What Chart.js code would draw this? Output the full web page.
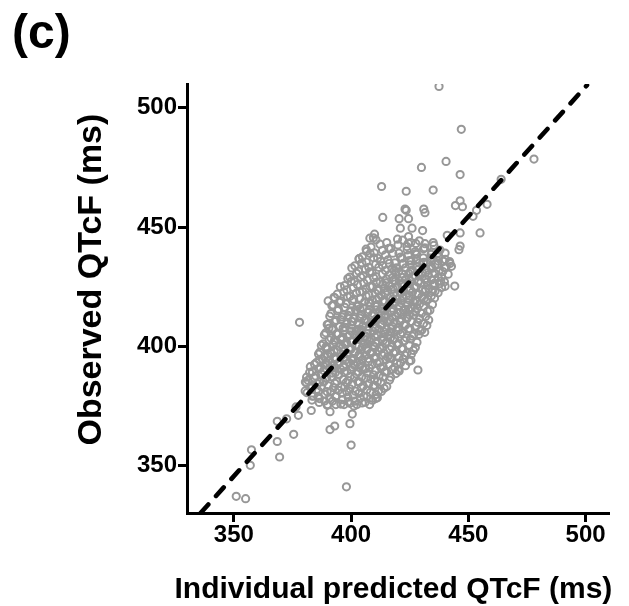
<!DOCTYPE html>
<html>
<head>
<meta charset="utf-8">
<script src="https://cdn.jsdelivr.net/npm/chart.js@4/dist/chart.umd.min.js"></script>
<style>
html,body{margin:0;padding:0;background:#ffffff;}
#wrap{width:629px;height:606px;}
</style>
</head>
<body>
<div id="wrap"><canvas id="c" width="629" height="606"></canvas></div>
<script>
// ---- chart values ----
const panelLabel = '(c)';
const xAxisTitle = 'Individual predicted QTcF (ms)';
const yAxisTitle = '    Observed QTcF (ms)';
const axisMin = 330;
const axisMax = 510;
const xTickValues = [350, 400, 450, 500];
const yTickValues = [350, 400, 450, 500];

// dashed reference line (end points)
const referenceLine = [[335.8, 330], [500.6, 509.5]];

// [individual predicted, observed] — sparse low end
const lowerTail = [
  [351,337],[355,336],[398,341],[357,350],[357.5,356.5],[369.5,353.5],[368.5,360],[375.5,363],
  [400,358.5],[391,365],[393,366.5],[399.5,367.5],[368.5,368.5],[372.5,369.5],[377.5,371],
  [400.5,371.5],[391,372.5],[383,373],[376.5,374.5],[378,410],[380.5,385],[381,387],[383.5,379],
  [386.5,378],[390,375.5],[393.5,375.5],[397,375.5],[399.5,376],[402.5,375.5],[406,376.5],
  [410.5,378],[410,386],[420,390],[428.5,390],[425.5,394],[416.5,395],[390.5,407.5],[390.2,419],[393,420.3]
];

// dense central cloud
const coreBand = [
  [386.4,376.4],[389.8,375.2],[392.1,377],[395.6,375.7],[398.9,376.7],[401.2,374.9],[404.7,376.2],[407.9,375.5],
  [383.3,377.4],[385.9,378.9],[388.7,377],[390.8,378.3],[393.6,379.2],[396.4,377.6],[398.7,378.6],[401.6,376.9],[403.9,378.1],[406.8,378.8],[409.1,377.3],[411.2,378.4],
  [381.2,380.5],[383.8,379.1],[386.1,381.1],[388.9,379.8],[391.3,380.7],[393.4,378.8],[396.2,380.3],[398.1,380.9],[400.9,379.4],[403.3,380.2],[405.4,379],[408.2,380.6],[410.6,379.7],[412.9,381],
  [380.4,381.2],[382.9,382.4],[385.3,381.8],[387.2,383.1],[389.8,380.9],[392.5,382.6],[394.6,381.5],[397.3,382.9],[399.5,382.1],[401.8,381.1],[404.4,382.7],[406.7,381.7],[409.5,383.2],[411.8,381.3],[414.1,382.3],
  [380.9,384.7],[383.4,383],[385.7,384.2],[388.3,385],[390.4,383.4],[393.1,384.4],[395.8,382.8],[397.9,384.8],[400.3,383.9],[402.9,385.1],[405.2,383.2],[407.6,384.3],[410.1,383.6],[412.7,384.9],[415.2,383.1],
  [381.6,385.7],[384.2,386.8],[386.5,384.9],[389.1,386.5],[391.7,387.2],[393.9,385.3],[396.6,386.1],[398.8,385.6],[401.4,386.9],[403.6,385],[406.3,386.6],[408.4,386.2],[411.2,385.2],[413.6,387.1],[416.4,385.8],
  [382.3,389],[384.9,387.5],[387.4,388.3],[389.6,386.8],[392.2,388.7],[394.8,387.9],[397.1,389.1],[399.6,387.3],[402.2,388.4],[404.5,387.1],[406.9,388.8],[409.6,388],[411.9,387.6],[414.3,389.2],[416.9,387],[419.1,388.5],
  [383.5,389.3],[386.2,390.6],[388.3,389.8],[390.9,391],[393.3,388.9],[395.5,390.4],[398.2,389.5],[400.4,391.2],[403.1,389.1],[405.3,390.2],[407.8,390.8],[410.4,389.7],[412.6,391],[415.2,389.2],[417.7,390.3],[420.5,389.6],
  [384.4,392.4],[386.9,391],[389.5,392.9],[391.8,391.7],[394.4,392.6],[396.7,391.2],[399.2,393.1],[401.5,391.9],[404.1,392.5],[406.2,390.8],[408.9,392.2],[411.1,392.9],[413.7,391.4],[416.1,392.3],[418.6,391.1],[421.1,393],[423.2,391.8],
  [385.2,393.1],[387.8,394.5],[390.3,393.8],[392.7,395.2],[395.2,393.4],[397.6,394.1],[400.1,394.8],[402.5,393],[404.9,394.4],[407.4,393.6],[409.8,395],[412.3,393.3],[414.8,394.3],[417.2,394.9],[419.6,392.9],[422.2,394.6],[424.8,393.7],
  [386.1,396.7],[388.5,395.6],[391.2,397.1],[393.6,395.1],[396.1,396.2],[398.4,396.9],[401.1,394.8],[403.4,396.5],[405.9,395.9],[408.2,397],[410.7,395.3],[413.2,396.3],[415.6,395.5],[418.1,397.2],[420.4,395.2],[423.1,396.1],[425.7,396.6],
  [386.7,397.5],[389.3,399],[391.6,396.9],[394.2,398.3],[396.8,397.8],[399.1,398.8],[401.7,397.2],[404.2,398.4],[406.5,399.2],[409.1,397.4],[411.4,398.1],[414.1,397],[416.5,398.7],[418.9,397.7],[421.5,398.9],[423.8,397.1],[426.6,398.2],
  [387.3,400.3],[389.9,399.1],[392.4,400.7],[394.9,399.8],[397.3,401.1],[399.8,398.9],[402.3,400.5],[404.8,399.6],[407.2,400.9],[409.7,400],[412.2,399.3],[414.6,401.2],[417.3,399.7],[419.6,400.6],[422.1,399],[424.7,400.4],[427.4,399.4],
  [388.1,401],[390.6,402.6],[393.1,401.7],[395.5,403],[398.1,401.3],[400.5,402.2],[402.9,402.9],[405.5,400.8],[407.9,402.4],[410.4,401.5],[412.9,403.1],[415.3,401.9],[417.8,402.7],[420.3,401.1],[422.8,402.3],[425.3,403],[428.1,401.6],
  [388.6,404.8],[391.4,403.4],[393.8,405.2],[396.3,403],[398.7,404.1],[401.3,404.7],[403.7,403.6],[406.2,404.3],[408.6,402.9],[411.1,404.9],[413.6,403.8],[416.1,404.5],[418.5,403.2],[421.1,405.1],[423.5,403.5],[426.1,404.2],[428.9,404.9],
  [389.2,405.6],[391.9,407],[394.5,405.2],[396.9,406.5],[399.4,404.8],[402.1,406.2],[404.4,406.9],[406.9,405.4],[409.4,406.3],[411.8,407.1],[414.4,405.1],[416.9,406],[419.3,406.7],[421.8,405.7],[424.4,407.2],[426.8,405],[429.5,406.4],[431.4,405.8],
  [389.8,409.1],[392.3,407.3],[395.1,408.4],[397.4,407.9],[400.1,408.8],[402.6,406.9],[405.1,408.6],[407.6,408.1],[410.2,407.5],[412.5,409],[415.1,407.1],[417.6,408.3],[420.1,407.8],[422.6,408.9],[425.1,407.3],[427.6,408.5],[430.2,406.8],[432.3,408.7],
  [390.3,409.2],[393.1,410.3],[395.6,411.1],[398.2,409.4],[400.6,410.2],[403.3,409],[405.7,410.8],[408.3,409.7],[410.8,411.2],[413.3,409.2],[415.8,410.5],[418.3,409.9],[420.8,410.9],[423.3,408.9],[425.8,410.4],[428.4,410],[430.9,409.5],[433.1,411],
  [390.9,412.6],[393.6,410.9],[396.2,412.2],[398.8,412.9],[401.3,411.6],[403.9,412.6],[406.4,411.1],[408.9,413.1],[411.5,411.8],[414.1,412.4],[416.6,411],[419.1,412.8],[421.6,411.4],[424.1,412.1],[426.7,413],[429.2,411.6],[431.8,412.5],
  [391.4,413.7],[394.2,414.9],[396.7,413],[399.4,414.4],[401.9,415.2],[404.5,413.3],[407.1,414.1],[409.6,413.6],[412.2,414.8],[414.7,412.9],[417.3,414.5],[419.8,414],[422.3,415],[424.9,413.2],[427.4,414.3],[430.1,413.8],[432.6,414.7],
  [391.8,417],[394.6,415.5],[397.3,416.3],[399.9,414.8],[402.6,416.7],[405.1,416.1],[407.7,415.2],[410.3,416.9],[412.8,415.7],[415.4,416.5],[418.1,415],[420.6,417.1],[423.2,415.4],[425.7,416.2],[428.3,415.9],[430.9,416.8],[433.6,415.1],
  [392.3,417.3],[395.1,418.4],[397.9,417.8],[400.5,419.1],[403.2,417.1],[405.8,418.6],[408.3,418],[411,416.9],[413.6,418.9],[416.2,417.6],[418.8,418.2],[421.4,419.2],[424,417.2],[426.6,418.5],[429.2,417.7],[431.9,418.9],[434.7,417.5],
  [392.7,420.5],[395.6,419],[398.4,420.8],[401.1,419.7],[403.8,420.1],[406.4,421],[409.1,419.3],[411.7,420.4],[414.3,418.8],[416.9,420.7],[419.6,419.8],[422.2,420.3],[424.8,421.1],[427.4,419.1],[430.1,420.6],[432.8,419.6],[435.6,420.2],
  [394.1,421.8],[396.9,422.8],[399.6,420.9],[402.3,422.3],[404.9,422.9],[407.6,421.4],[410.3,422.2],[412.9,421.1],[415.6,423.1],[418.2,421.9],[420.9,422.5],[423.5,421.2],[426.2,422.7],[428.8,421.7],[431.5,423],[434.2,421],[437.1,422.4],
  [395.4,424.9],[398.2,423.6],[400.9,424.6],[403.7,422.8],[406.3,424.2],[409.1,425],[411.7,423.3],[414.4,424.4],[417.1,423.7],[419.7,425.1],[422.4,423.1],[425.1,424.1],[427.7,424.8],[430.4,423.5],[433.1,424.3],[435.8,423],[438.6,424.6],
  [397.2,425.4],[400,427.1],[402.7,425.8],[405.4,426.5],[408.1,425],[410.8,426.8],[413.5,426],[416.2,425.2],[418.9,427.2],[421.6,425.6],[424.3,426.3],[427,424.9],[429.7,426.6],[432.4,426.9],[435.1,425.5],[437.7,426.2],[440.1,425.1],
  [398.6,428.4],[401.4,427.1],[404.1,429],[406.9,427.7],[409.6,428.7],[412.4,426.9],[415.1,428.2],[417.8,428.9],[420.6,427.4],[423.3,428.1],[426.1,429.1],[428.8,427.3],[431.6,428.4],[434.3,427.8],[437.1,428.8],[439.8,427],
  [399.4,429],[402.3,430.6],[405.1,429.6],[407.9,431.2],[410.6,429.2],[413.4,430.3],[416.2,429.9],[419,430.9],[421.8,428.9],[424.6,430.5],[427.4,429.5],[430.2,431],[432.9,429.8],[435.7,430.7],[438.6,429.1],[441.4,430.2],
  [400.3,432.8],[403.2,431.5],[406.1,432.2],[408.9,431],[411.8,433.1],[414.6,431.7],[417.5,432.6],[420.3,431.2],[423.2,432.9],[426.1,431.9],[428.9,432.4],[431.8,430.8],[434.6,432.7],[437.5,431.6],[440.4,433],
  [401.6,433.7],[404.6,435],[407.5,433.1],[410.5,434.4],[413.4,433.8],[416.3,434.8],[419.3,432.9],[422.2,434.6],[425.1,434.1],[428.1,433.3],[431,435.2],[433.9,433.5],[436.9,434.3],[439.8,433],[442.2,434.7],
  [403.4,436.6],[406.5,435.3],[409.6,437.1],[412.6,435.6],[415.7,436.2],[418.7,435],[421.8,436.9],[424.8,435.9],[427.9,436.5],[430.9,435.1],[434,437],[437.1,435.7],[440.2,436.4],
  [404.8,437.5],[408.1,438.9],[411.3,436.9],[414.6,438.3],[417.8,439],[421.1,437.4],[424.3,438.1],[427.6,438.8],[430.8,437.1],[434.1,438.5],[437.3,437.8],[440.1,439.1],
  [406.4,440.7],[409.9,439.2],[413.4,440.2],[416.9,441],[420.4,439],[423.9,440.4],[427.4,439.7],[430.9,440.9],[434.4,439.4],[437.9,440.3],
  [408.5,441.6],[412.3,442.8],[416.1,441],[420,442.5],[423.8,441.8],[427.6,443.1],[431.4,441.3],[435.3,442.3],
  [410.6,444.6],[415.2,443.5],[419.8,444.9],[424.4,443.2],[429.1,444.2]
];

// extra points filling the densest part along the line
const innerCore = [
  [382.6,391.4],[386.3,390.4],[389.7,391.9],[393.2,390.8],[396.8,391.7],[400.1,390],[403.5,391.3],[406.2,390.6],
  [386.4,394.3],[389.9,395.8],[393.5,394.6],[396.9,395.4],[400.4,394.1],[403.8,395.9],[407.3,394.8],[410.1,395.3],
  [389.3,399.8],[392.8,398.2],[396.4,399.5],[399.9,398.7],[403.3,400],[406.8,398.4],[410.2,399.6],[413,398.9],
  [392.9,402.5],[396.3,403.7],[399.8,402.1],[403.2,403.4],[406.7,402.8],[410.1,403.9],[413.6,402.3],[416.8,403.5],
  [396.6,407.6],[400.1,406.3],[403.5,407.2],[407,406.6],[410.4,407.9],[413.9,406.1],[417.3,407.4],[420.4,406.8],
  [400.2,410.5],[403.7,411.8],[407.1,410.2],[410.6,411.4],[414,410.7],[417.5,411.9],[420.9,410.3],[423.8,411.5],
  [403.8,415.7],[407.3,414.4],[410.7,415.2],[414.2,414.6],[417.6,415.9],[421.1,414.2],[424.5,415.5],[427.5,414.8],
  [407.5,418.4],[410.9,419.6],[414.4,418.9],[417.8,419.8],[421.3,418.2],[424.7,419.4],[428.2,418.7],[431.1,419.9],
  [411.1,423.6],[414.6,422.3],[418,423.9],[421.5,422.6],[424.9,423.3],[428.4,422.1],[431.8,423.8],[434.7,422.9],
  [414.8,426.6],[418.2,427.7],[421.7,426.2],[425.1,427.4],[428.6,426.8],[432,427.9],[435.5,426.4],[438.2,427.3],
  [418.4,431.7],[421.9,430.3],[425.3,431.2],[428.8,430.6],[432.2,431.9],[435.7,430.4],[439.1,431.3],
  [422.1,434.4],[425.6,435.8],[429,434.9],[432.5,435.3],[435.9,434.2],[439.4,435.6]
];

// sparse high end
const upperTail = [
  [437.5,509],[447,491],[430,475],[440.5,477.5],[446.5,472],[478,478.5],[464,470],[413,467],[423.5,465],[435,465.5],
  [413.5,454],[423,457.5],[431,457.5],[431.5,456],[444.5,459],[446.5,461],[447.5,458.5],[458,459.5],[452,454.5],[453.5,457],
  [455,447.5],[420.5,453.5],[424.5,453.5],[423.5,457],[421,449.5],[426,449.5],[430.5,448.5],[410,447],[409.5,445.5],[441,446.5],
  [446.5,447.5],[446,440.5],[446.5,442],[442,435.5],[422,444.5],[425.5,443.5],[424.5,446],[428,438.5],[431.5,443],[435,443.5],
  [437,439],[444.2,425.2],[442.8,433.5],[403.4,436.7],[408,445.3],[406.6,439.8]
];

// ---- build ----
const FONT = "'Liberation Sans', Arial, Helvetica, sans-serif";
const toXY = arr => arr.map(([x, y]) => ({x, y}));
const observations = toXY([].concat(lowerTail, coreBand, innerCore, upperTail));

// x-axis title drawn below the axis without width compression
const xTitlePlugin = {
  id: 'xTitlePlugin',
  afterDraw(chart) {
    const c = chart.ctx;
    const area = chart.chartArea;
    c.save();
    c.fillStyle = '#000000';
    c.font = "bold 30px " + FONT;
    c.textAlign = 'center';
    c.textBaseline = 'alphabetic';
    c.fillText(xAxisTitle, (area.left + area.right) / 2 - 4.6, area.bottom + 85);
    c.restore();
  }
};

const ctx = document.getElementById('c').getContext('2d');
new Chart(ctx, {
  type: 'scatter',
  data: {
    datasets: [
      {
        type: 'line',
        label: 'Reference line',
        data: toXY(referenceLine),
        borderColor: '#000000',
        borderWidth: 4.6,
        borderDash: [11.5, 11.5],
        borderCapStyle: 'round',
        pointRadius: 0,
        fill: false,
        tension: 0,
        order: 0
      },
      {
        label: 'Observed vs individual predicted QTcF',
        data: observations,
        pointStyle: 'circle',
        pointRadius: 3.6,
        pointBorderWidth: 2,
        pointBorderColor: '#979797',
        pointBackgroundColor: 'rgba(255,255,255,0)',
        order: 1
      }
    ]
  },
  plugins: [xTitlePlugin],
  options: {
    responsive: false,
    animation: false,
    events: [],
    layout: { padding: { left: 12, right: 20, top: 0, bottom: 0 } },
    plugins: {
      legend: { display: false },
      tooltip: { enabled: false },
      title: {
        display: true,
        text: panelLabel,
        align: 'start',
        color: '#000000',
        font: { family: FONT, size: 48, weight: 'bold', lineHeight: 1.2 },
        padding: { top: 5.6, bottom: 20.8 }
      }
    },
    scales: {
      x: {
        type: 'linear',
        position: 'bottom',
        min: axisMin,
        max: axisMax,
        bounds: 'data',
        afterBuildTicks: s => { s.ticks = xTickValues.map(v => ({ value: v })); },
        afterFit: s => { s.height = 93; },
        grid: { display: true, drawOnChartArea: false, drawTicks: true, tickLength: 9, tickWidth: 3, tickColor: '#000000' },
        border: { display: true, color: '#000000', width: 3 },
        ticks: { color: '#000000', padding: 1, maxRotation: 0, font: { family: FONT, size: 24, weight: 'bold', lineHeight: 1 } },
        title: { display: false, text: xAxisTitle }
      },
      y: {
        type: 'linear',
        position: 'left',
        min: axisMin,
        max: axisMax,
        bounds: 'data',
        afterBuildTicks: s => { s.ticks = yTickValues.map(v => ({ value: v })); },
        afterFit: s => { s.width = 175; },
        grid: { display: true, drawOnChartArea: false, drawTicks: true, tickLength: 9, tickWidth: 3, tickColor: '#000000' },
        border: { display: true, color: '#000000', width: 3 },
        ticks: { color: '#000000', padding: 1, font: { family: FONT, size: 24, weight: 'bold', lineHeight: 1 } },
        title: { display: true, text: yAxisTitle, color: '#000000', padding: { top: 59.6, bottom: 0 },
                 font: { family: FONT, size: 34, weight: 'bold', lineHeight: 1.2 } }
      }
    }
  }
});
</script>
</body>
</html>
